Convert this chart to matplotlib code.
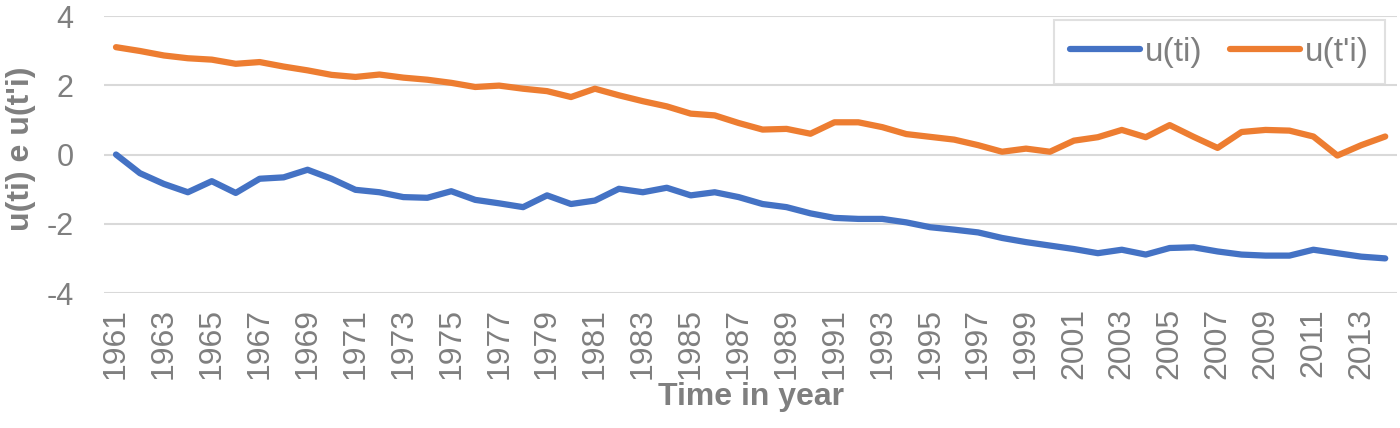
import matplotlib
matplotlib.use("Agg")
import matplotlib.pyplot as plt

years = list(range(1961, 2015))

u_ti = [
    0.00, -0.54, -0.85, -1.09, -0.77, -1.11, -0.70, -0.66, -0.44, -0.70,
    -1.02, -1.09, -1.23, -1.25, -1.06, -1.31, -1.41, -1.52, -1.18, -1.43,
    -1.33, -0.99, -1.09, -0.96, -1.18, -1.09, -1.23, -1.43, -1.52, -1.70,
    -1.83, -1.86, -1.86, -1.96, -2.10, -2.17, -2.25, -2.41, -2.53, -2.63,
    -2.73, -2.85, -2.75, -2.89, -2.70, -2.68, -2.80, -2.89, -2.92, -2.92,
    -2.75, -2.85, -2.95, -3.00,
]

u_tpi = [
    3.10, 2.99, 2.86, 2.78, 2.74, 2.62, 2.67, 2.54, 2.43, 2.30,
    2.24, 2.31, 2.22, 2.16, 2.07, 1.95, 1.99, 1.90, 1.83, 1.66,
    1.90, 1.71, 1.54, 1.39, 1.18, 1.13, 0.91, 0.72, 0.74, 0.60,
    0.93, 0.93, 0.79, 0.59, 0.51, 0.43, 0.27, 0.08, 0.17, 0.08,
    0.40, 0.50, 0.71, 0.50, 0.85, 0.51, 0.19, 0.65, 0.71, 0.69,
    0.52, -0.03, 0.27, 0.52,
]

tick_years = years[::2]
y_ticks = [-4, -2, 0, 2, 4]

plt.rcParams["font.family"] = ["Liberation Sans", "DejaVu Sans"]
plt.rcParams["axes.unicode_minus"] = False
grey = "#7f7f7f"

fig = plt.figure(figsize=(14, 4.28), dpi=100)
ax = fig.add_axes([0.0743, 0.3154, 0.9237, 0.6472])

ax.plot(years, u_ti, color="#4472C4", lw=4.5, solid_capstyle="round",
        solid_joinstyle="round", label="u(ti)", zorder=3)
ax.plot(years, u_tpi, color="#ED7D31", lw=4.5, solid_capstyle="round",
        solid_joinstyle="round", label="u(t'i)", zorder=3)

ax.set_xlim(years[0] - 0.5, years[-1] + 0.5)
ax.set_ylim(-4, 4)
ax.set_yticks(y_ticks)
ax.set_xticks(tick_years)
ax.set_xticklabels([str(y) for y in tick_years], rotation=90)

ax.grid(axis="y", color="#d9d9d9", lw=1.5)
ax.set_axisbelow(True)
for s in ax.spines.values():
    s.set_visible(False)
ax.tick_params(axis="both", length=0, colors=grey, labelsize=23)
ax.tick_params(axis="y", pad=22, labelsize=22)
ax.tick_params(axis="x", pad=11)

ax.set_xlabel("Time in year", fontsize=23, fontweight="bold", color=grey,
              labelpad=2)
fig.text(0.0150, 0.652, "u(ti) e u(t'i)", rotation=90, fontsize=23,
         fontweight="bold", color=grey, ha="center", va="center")

# legend box sits just under the top gridline, flush right like Excel
leg = ax.legend(loc="upper right", bbox_to_anchor=(0.9907, 0.985), ncol=2,
                fontsize=24, frameon=True, fancybox=False, handlelength=2.1,
                handletextpad=0.15, columnspacing=0.8, borderpad=0.5,
                borderaxespad=0, labelcolor=grey)
leg.get_frame().set_edgecolor("#d9d9d9")
leg.get_frame().set_linewidth(1.5)

fig.savefig("out.png", dpi=100)
